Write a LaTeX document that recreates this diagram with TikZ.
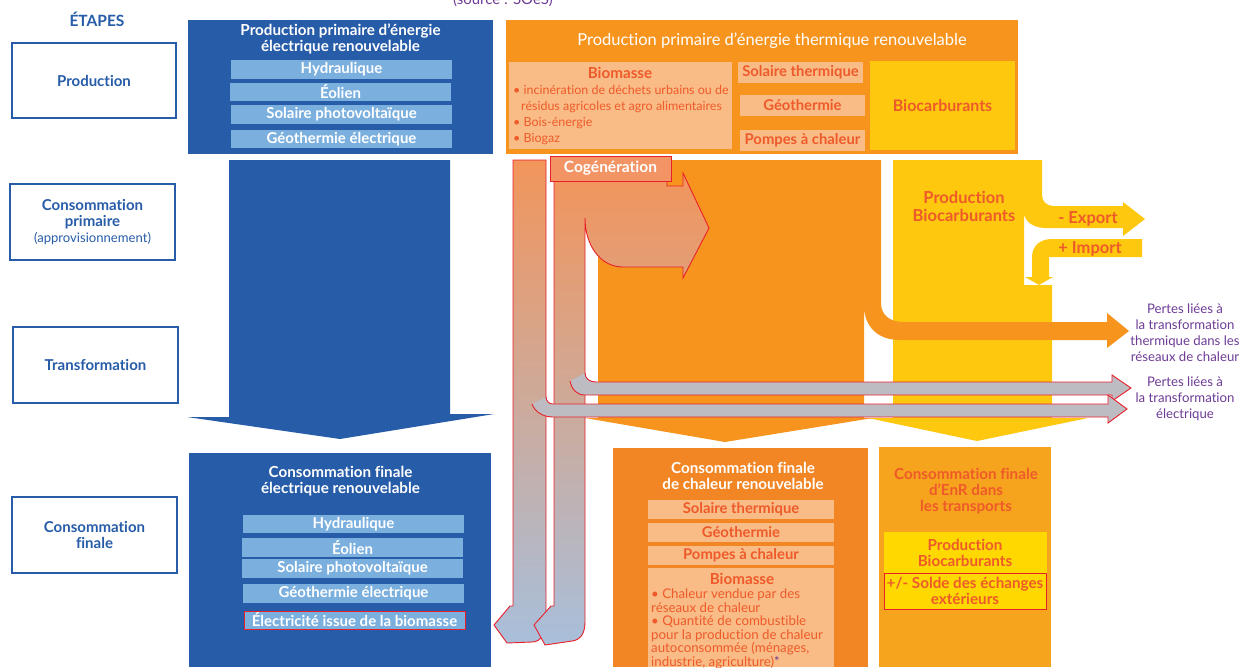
\documentclass[tikz,border=0pt]{standalone}
\usepackage{fontspec}
\setmainfont{Lato}[Ligatures=NoCommon]
\definecolor{eblue}{HTML}{275CA8}
\definecolor{lblue}{HTML}{7BAFDE}
\definecolor{orng}{HTML}{F7941E}
\definecolor{peach}{HTML}{F9BC86}
\definecolor{redor}{HTML}{EE5A2A}
\definecolor{yell}{HTML}{FEC80E}
\definecolor{yell2}{HTML}{FFD800}
\definecolor{heat}{HTML}{F28625}
\definecolor{trans}{HTML}{F6A31E}
\definecolor{purp}{HTML}{6E3C97}
\definecolor{ered}{HTML}{E8202A}
\definecolor{greyb}{HTML}{BEBCC3}
\definecolor{gtop}{HTML}{F2955B}
\definecolor{gbot}{HTML}{A8BFDB}
\definecolor{cogf}{HTML}{F29464}
\newcommand\fs[2]{\fontsize{#1}{#2}\selectfont}
\tikzset{
  etape/.style={draw=eblue, line width=1.2pt, fill=white, text=eblue, font=\bfseries\fs{15}{16}, align=center, inner sep=0pt},
  bluebox/.style={fill=eblue, inner sep=0pt},
  bar/.style={fill=lblue, text=white, font=\bfseries\fs{15}{16}, inner sep=0pt},
  subbox/.style={fill=peach, text=redor, font=\bfseries\fs{14.8}{16}, inner sep=0pt, align=center},
  wtitle/.style={text=white, font=\bfseries\fs{15.2}{16}, align=center, inner sep=0pt},
  otitle/.style={text=redor, font=\bfseries\fs{15.2}{16}, align=center, inner sep=0pt},
  perte/.style={text=purp, font=\fs{13.2}{16}, align=center, inner sep=0pt},
  liste/.style={text=redor, font=\fs{12.5}{16}, align=left, anchor=west, inner sep=0pt},
  ared/.style={draw=ered, line width=0.9pt},
  exlab/.style={text=redor, font=\bfseries\fs{16.5}{18}, inner sep=0pt}
}
\begin{document}
\begin{tikzpicture}[x=1pt,y=-1pt]
\useasboundingbox (0,0) rectangle (1246,667);
\fill[white] (0,0) rectangle (1246,667);

% source (cut at top, as in the reference)
\node[text=purp, font=\fs{15}{17}, anchor=base, inner sep=0pt] (src) at (503,4) {(source : SOeS)};

% ETAPES column
\node[text=eblue, font=\bfseries\fs{15.5}{17}] (etp) at (97,19) {ÉTAPES};
\node[etape, minimum width=164pt, minimum height=75pt] (e1) at (94,80.5) {Production};
\node[etape, minimum width=165pt, minimum height=76pt] (e2) at (92.5,222) {Consommation\\primaire\\{\mdseries\fs{13.1}{16}(approvisionnement)}};
\node[etape, minimum width=165pt, minimum height=76pt] (e3) at (95.5,365) {Transformation};
\node[etape, minimum width=165pt, minimum height=76pt] (e4) at (94.5,535) {Consommation\\finale};

% blue top box
\node[bluebox, minimum width=305pt, minimum height=134pt] (bt) at (340.5,87) {};
\node[wtitle] (btt) at (340.5,39) {Production primaire d’énergie\\électrique renouvelable};
\node[bar, minimum width=221pt, minimum height=19pt] (bt1) at (341.5,69.5) {Hydraulique};
\node[bar, minimum width=221pt, minimum height=18pt] (bt2) at (340.5,92) {Éolien};
\node[bar, minimum width=221pt, minimum height=19pt] (bt3) at (341.5,114.5) {Solaire photovoltaïque};
\node[bar, minimum width=221pt, minimum height=18pt] (bt4) at (341.5,139) {Géothermie électrique};

% blue arrow
\fill[eblue] (229,160) -- (450,160) -- (450,414) -- (494,414) -- (340,439) -- (187,417) -- (229,417) -- cycle;

% blue bottom box
\node[bluebox, minimum width=302pt, minimum height=214pt] (bb) at (340,560) {};
\node[wtitle] (bbt) at (340.5,481) {Consommation finale\\électrique renouvelable};
\node[bar, minimum width=221pt, minimum height=18pt] (bb1) at (353.5,524) {Hydraulique};
\node[bar, minimum width=221pt, minimum height=19pt] (bb2) at (352.5,547.5) {Éolien};
\node[bar, minimum width=221pt, minimum height=19pt] (bb3) at (352.5,568.5) {Solaire photovoltaïque};
\node[bar, minimum width=221pt, minimum height=19pt] (bb4) at (353.5,593.5) {Géothermie électrique};
\node[bar, minimum width=221pt, minimum height=18pt, draw=ered, line width=1pt] (bb5) at (354.5,620) {Électricité issue de la biomasse};

% orange top box
\node[fill=orng, minimum width=512pt, minimum height=134pt, inner sep=0pt] (ot) at (762,87) {};
\node[text=white, font=\fs{16.5}{18}, inner sep=0pt] (ott) at (772,41) {Production primaire d’énergie thermique renouvelable};
\node[fill=peach, minimum width=223pt, minimum height=87pt, inner sep=0pt] (obio) at (620.5,105.5) {};
\node[otitle] (obiot) at (620,73) {Biomasse};
\node[liste] (obiol) at (513,115) {• incinération de déchets urbains ou de\\\hspace*{8pt}résidus agricoles et agro alimentaires\\• Bois-énergie\\• Biogaz};
\node[subbox, minimum width=125pt, minimum height=21pt] (os1) at (800.5,72.5) {Solaire thermique};
\node[subbox, minimum width=125pt, minimum height=21pt] (os2) at (802.5,105.5) {Géothermie};
\node[subbox, minimum width=125pt, minimum height=21pt] (os3) at (802.5,140.5) {Pompes à chaleur};
\node[fill=yell, text=redor, font=\bfseries\fs{16}{18}, minimum width=145pt, minimum height=89pt, inner sep=0pt] (obc) at (942.5,105.5) {Biocarburants};

% yellow flow
\fill[yell] (893,160) -- (1042,160) -- (1042,195) .. controls (1042,202) and (1047,206) .. (1054,206) -- (1123,206) -- (1123,202) -- (1145,219) -- (1123,236) -- (1123,228) -- (1046,228) .. controls (1034,228) and (1024,222) .. (1024,212) -- (1024,285) -- (1052,285) -- (1052,418) -- (1088,418) -- (977,441) -- (868,418) -- (893,418) -- cycle;
\fill[yell] (1142,239) -- (1052,239) .. controls (1040,239) and (1032,246) .. (1032,257) -- (1032,277) -- (1025,277) -- (1039,285) -- (1053,277) -- (1049,277) -- (1049,257) -- (1142,257) -- cycle;
\node[exlab, align=center, font=\bfseries\fs{16.5}{18}] (ypb) at (964,206) {Production\\Biocarburants};
\node[exlab] (exp) at (1088,219) {- Export};
\node[exlab] (imp) at (1090,249) {+ Import};

% orange flow with loss arrow
\fill[orng] (598,160) -- (881,160) -- (881,303) .. controls (881,315) and (890,322) .. (903,322) -- (1107,322) -- (1107,313) -- (1129,331) -- (1107,348) -- (1107,340) -- (900,340) .. controls (878,340) and (864,327) .. (864,305) -- (864,418) -- (873,418) -- (725,442) -- (585,418) -- (598,418) -- cycle;

% electricity / cogeneration flows
\draw[ared, top color=gtop, bottom color=gbot] (513,160) -- (546,160) -- (546,615) .. controls (546,632) and (542,642) .. (532,642) -- (507,643) -- (494,625) -- (510,606) -- (513,606) -- cycle;
\draw[ared, top color=gtop, bottom color=gbot] (554,181) -- (667,181) -- (667,186) -- (683,186) -- (683,173) -- (709,228) -- (683,278) -- (683,267) -- (623,267) .. controls (600,267) and (585,245) .. (585,218) -- (585,622) .. controls (585,634) and (580,640) .. (572,641) -- (545,645) -- (534,625) -- (551,606) -- (554,606) -- cycle;
\node[draw=ered, line width=0.9pt, fill=cogf, text=white, font=\bfseries\fs{15.5}{16}, minimum width=121pt, minimum height=25pt, inner sep=0pt] (cog) at (610.5,168.5) {Cogénération};

\fill[greyb] (570,381) .. controls (572,390) and (577,395) .. (585,395) -- (1112,395) -- (1112,401) -- (1131,388) -- (1112,375) -- (1112,382) -- (596,382) .. controls (590,382) and (585,379) .. (585,373) -- cycle;
\draw[ared] (570,381) .. controls (572,390) and (577,395) .. (585,395) -- (1112,395) -- (1112,401) -- (1131,388) -- (1112,375) -- (1112,382) -- (596,382) .. controls (590,382) and (585,379) .. (585,373);
\fill[greyb] (532,404) .. controls (535,412) and (543,417) .. (553,417) -- (1108,417) -- (1108,423) -- (1127,409) -- (1108,395) -- (1108,404) -- (553,404) .. controls (549,404) and (546,401) .. (546,397) -- cycle;
\draw[ared] (532,404) .. controls (535,412) and (543,417) .. (553,417) -- (1108,417) -- (1108,423) -- (1127,409) -- (1108,395) -- (1108,404) -- (553,404) .. controls (549,404) and (546,401) .. (546,397);

% losses labels
\node[perte] (p1) at (1185,333) {Pertes liées à\\la transformation\\thermique dans les\\réseaux de chaleur};
\node[perte] (p2) at (1185,399) {Pertes liées à\\la transformation\\électrique};

% bottom heat box
\node[fill=heat, minimum width=255pt, minimum height=219pt, inner sep=0pt] (hb) at (740.5,557.5) {};
\node[wtitle] (hbt) at (743,476) {Consommation finale\\de chaleur renouvelable};
\node[subbox, minimum width=186pt, minimum height=19pt] (hb1) at (741,509.5) {Solaire thermique};
\node[subbox, minimum width=186pt, minimum height=19pt] (hb2) at (741,532.5) {Géothermie};
\node[subbox, minimum width=186pt, minimum height=19pt] (hb3) at (741,555.5) {Pompes à chaleur};
\node[fill=peach, minimum width=186pt, minimum height=99pt, inner sep=0pt] (hb4) at (741,617.5) {};
\node[otitle] (hb4t) at (742,579) {Biomasse};
\node[liste, font=\fs{13.3}{13.5}] (hb4l) at (651,629) {• Chaleur vendue par des\\réseaux de chaleur\\• Quantité de combustible\\pour la production de chaleur\\autoconsommée (ménages,\\industrie, agriculture)\textcolor{purp}{*}};

% bottom transport box
\node[fill=trans, minimum width=172pt, minimum height=220pt, inner sep=0pt] (tb) at (965,557) {};
\node[otitle] (tbt) at (966,491) {Consommation finale\\d’EnR dans\\les transports};
\node[fill=yell2, minimum width=163pt, minimum height=77pt, inner sep=0pt] (tb1) at (965.5,570.5) {};
\node[otitle] (tb1t) at (965,553) {Production\\Biocarburants};
\node[otitle, draw=ered, line width=0.9pt, minimum width=162pt, minimum height=36pt] (tb2) at (965,591) {+/- Solde des échanges\\extérieurs};
\end{tikzpicture}
\end{document}
